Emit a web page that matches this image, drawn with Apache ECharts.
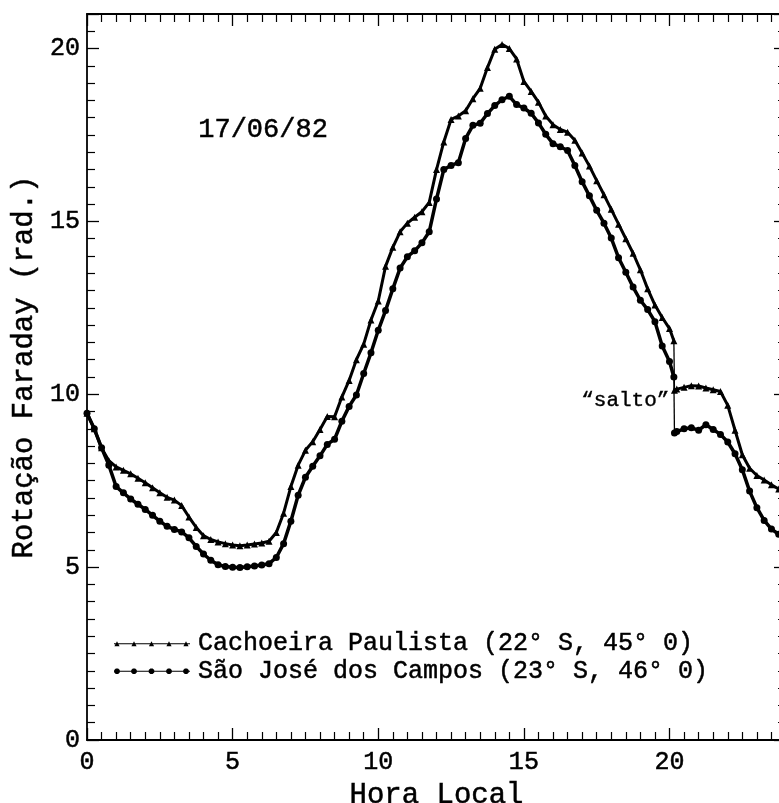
<!DOCTYPE html>
<html>
<head>
<meta charset="utf-8">
<script src="https://cdn.jsdelivr.net/npm/echarts@6/dist/echarts.min.js"></script>
<style>
html,body{margin:0;padding:0;background:#fff;}
#chart{width:779px;height:803px;}
</style>
</head>
<body>
<div id="chart"></div>
<script>
// Local time (hours); 20.15 / 20.17 bracket the "salto" (jump)
const hours = [
  0, 0.25, 0.5, 0.75, 1, 1.25, 1.5, 1.75, 2, 2.25, 2.5, 2.75, 3, 3.25, 3.5, 3.75,
  4, 4.25, 4.5, 4.75, 5, 5.25, 5.5, 5.75, 6, 6.25, 6.5, 6.75, 7, 7.25, 7.5, 7.75,
  8, 8.25, 8.5, 8.75, 9, 9.25, 9.5, 9.75, 10, 10.25, 10.5, 10.75, 11, 11.25, 11.5, 11.75,
  12, 12.25, 12.5, 12.75, 13, 13.25, 13.5, 13.75, 14, 14.25, 14.5, 14.75, 15, 15.25, 15.5, 15.75,
  16, 16.25, 16.5, 16.75, 17, 17.25, 17.5, 17.75, 18, 18.25, 18.5, 18.75, 19, 19.25, 19.5, 19.75,
  20, 20.15, 20.17, 20.25, 20.5, 20.75, 21, 21.25, 21.5, 21.75,
  22, 22.25, 22.5, 22.75, 23, 23.25, 23.5, 23.75, 24
];
const jumpBefore = 20.15;   // last reading before the "salto"
const jumpAfter = 20.17;    // first reading after the "salto"
// Cachoeira Paulista (22° S, 45° O)
const cachoeira = [
  9.45, 9.00, 8.45, 8.08, 7.90, 7.80, 7.70, 7.57, 7.44, 7.30, 7.15, 7.02, 6.94, 6.78, 6.45, 6.15,
  5.91, 5.80, 5.73, 5.68, 5.64, 5.62, 5.64, 5.67, 5.70, 5.75, 6.00, 6.56, 7.33, 7.95, 8.38, 8.63,
  8.98, 9.36, 9.35, 9.92, 10.40, 11.00, 11.45, 12.15, 12.70, 13.70, 14.25, 14.70, 14.95, 15.12, 15.28, 15.55,
  16.50, 17.30, 17.95, 18.05, 18.20, 18.55, 18.85, 19.45, 19.98, 20.12, 20.00, 19.70, 19.05, 18.76, 18.45, 18.05,
  17.80, 17.66, 17.58, 17.35, 16.98, 16.60, 16.18, 15.77, 15.35, 14.92, 14.50, 14.08, 13.60, 13.05, 12.58, 12.22,
  11.90, 11.55, 10.12, 10.15, 10.20, 10.25, 10.24, 10.18, 10.13, 10.08,
  9.68, 8.96, 8.25, 7.86, 7.65, 7.52, 7.38, 7.26, 7.15
];
// São José dos Campos (23° S, 46° O)
const saoJose = [
  9.45, 9.00, 8.45, 7.95, 7.33, 7.15, 6.97, 6.82, 6.67, 6.50, 6.33, 6.18, 6.09, 6.02, 5.85, 5.60,
  5.38, 5.20, 5.07, 5.02, 5.00, 4.99, 5.01, 5.03, 5.06, 5.10, 5.28, 5.68, 6.33, 7.08, 7.60, 7.92,
  8.22, 8.55, 8.70, 9.22, 9.65, 9.98, 10.60, 11.20, 11.85, 12.42, 13.05, 13.65, 13.98, 14.15, 14.38, 14.70,
  15.65, 16.50, 16.62, 16.70, 17.40, 17.78, 17.84, 18.12, 18.35, 18.52, 18.62, 18.38, 18.28, 18.13, 17.85, 17.52,
  17.25, 17.16, 17.05, 16.62, 16.15, 15.74, 15.32, 14.95, 14.52, 13.95, 13.53, 13.10, 12.72, 12.45, 12.10, 11.40,
  10.95, 10.50, 8.88, 8.92, 9.00, 9.03, 8.96, 9.12, 8.98, 8.84,
  8.62, 8.28, 7.82, 7.20, 6.72, 6.35, 6.10, 5.95, 5.85
];
const seriesNames = ['Cachoeira Paulista (22° S, 45° 0)', 'São José dos Campos (23° S, 46° 0)'];
const xTicks = [0, 5, 10, 15, 20];
const yTicks = [0, 5, 10, 15, 20];
const dateLabel = '17/06/82';
const jumpLabel = '\u201csalto\u201d';

const FONT = 'Liberation Mono';
const chart = echarts.init(document.getElementById('chart'), null, {renderer: 'canvas'});

const mx = [3, 20, 37.5, 55, 72];
const iconC = 'path://M0,2.6 L76,2.6 L76,3.4 L0,3.4 Z ' +
  mx.map(x => `M${x},0.6 L${x + 2.6},5.4 L${x - 2.6},5.4 Z`).join(' ') +
  ' M0,0 L0.01,0 L0,0.01 Z M76,6 L75.99,6 L76,5.99 Z';
const oct = (x, r) => {
  const pts = [];
  for (let k = 0; k < 8; k++) {
    const a = Math.PI / 8 + k * Math.PI / 4;
    pts.push(`${(x + r * Math.cos(a)).toFixed(2)},${(3 + r * Math.sin(a)).toFixed(2)}`);
  }
  return 'M' + pts.join(' L') + ' Z';
};
const iconS = 'path://M0,2.5 L76,2.5 L76,3.5 L0,3.5 Z ' + mx.map(x => oct(x, 3)).join(' ') +
  ' M0,0 L0.01,0 L0,0.01 Z M76,6 L75.99,6 L76,5.99 Z';

const txt = (size) => ({fontFamily: FONT, fontSize: size, color: '#000', textBorderColor: '#000', textBorderWidth: 0.5});

const axisCommon = {
  type: 'value',
  axisLine: {show: true, onZero: false, lineStyle: {color: '#000', width: 1.8}},
  axisTick: {show: true, inside: true, length: 12, lineStyle: {color: '#000', width: 1.3}},
  minorTick: {show: true, splitNumber: 10, length: 8, lineStyle: {color: '#000', width: 1.2}},
  splitLine: {show: false},
  minorSplitLine: {show: false}
};

const iBefore = hours.indexOf(jumpBefore);
const iAfter = hours.indexOf(jumpAfter);
const pairs = (vals, from, to) => hours.slice(from, to).map((h, k) => [h, vals[from + k]]);

const cStyle = {symbol: 'triangle', symbolSize: 7, showSymbol: true, lineStyle: {color: '#000', width: 3}, itemStyle: {color: '#000'}, z: 3};
const sStyle = {symbol: 'circle', symbolSize: 7, showSymbol: true, lineStyle: {color: '#000', width: 3.5}, itemStyle: {color: '#000'}, z: 2};

chart.setOption({
  animation: false,
  backgroundColor: '#fff',
  grid: {left: 87, right: -7, top: 14, bottom: 63, outerBoundsMode: 'none', containLabel: false},
  xAxis: [
    Object.assign({}, axisCommon, {
      position: 'bottom', min: 0, max: 24, interval: 5,
      name: 'Hora Local', nameLocation: 'middle', nameGap: 36,
      nameTextStyle: txt(29),
      axisLabel: Object.assign({
        show: true, margin: 10, showMaxLabel: false,
        formatter: v => (xTicks.indexOf(v) >= 0 ? String(v) : '')
      }, txt(25))
    }),
    Object.assign({}, axisCommon, {
      position: 'top', min: 0, max: 24, interval: 5,
      axisLabel: {show: false}
    })
  ],
  yAxis: [
    Object.assign({}, axisCommon, {
      position: 'left', min: 0, max: 21, interval: 5,
      name: 'Rotação Faraday (rad.)', nameLocation: 'middle', nameGap: 35, nameRotate: 90,
      nameTextStyle: Object.assign({padding: [0, 0, 0, 20]}, txt(29)),
      axisLabel: Object.assign({
        show: true, margin: 7, showMaxLabel: false,
        formatter: v => (yTicks.indexOf(v) >= 0 ? String(v) : '')
      }, txt(25))
    }),
    Object.assign({}, axisCommon, {
      position: 'right', min: 0, max: 21, interval: 5,
      axisLabel: {show: false}
    })
  ],
  legend: {
    show: true, orient: 'vertical', left: 109, top: 626, itemGap: 2,
    itemWidth: 76, itemHeight: 6,
    textStyle: Object.assign({padding: [0, 0, 0, 3]}, txt(25)),
    data: [
      {name: seriesNames[0], icon: iconC, itemStyle: {color: '#000', borderWidth: 0}},
      {name: seriesNames[1], icon: iconS, itemStyle: {color: '#000', borderWidth: 0}}
    ],
    selectedMode: false
  },
  graphic: [
    {type: 'text', left: 198, top: 116, style: {text: dateLabel, font: `27px "${FONT}"`, fill: '#000', stroke: '#000', lineWidth: 0.5}},
    {type: 'text', left: 581, top: 390, style: {text: jumpLabel, font: `21px "${FONT}"`, fill: '#000', stroke: '#000', lineWidth: 0.4}}
  ],
  series: [
    Object.assign({name: seriesNames[0], type: 'line', data: pairs(cachoeira, 0, iBefore + 1)}, cStyle),
    Object.assign({name: seriesNames[0], type: 'line', data: pairs(cachoeira, iAfter, hours.length)}, cStyle),
    Object.assign({name: seriesNames[1], type: 'line', data: pairs(saoJose, 0, iBefore + 1)}, sStyle),
    Object.assign({name: seriesNames[1], type: 'line', data: pairs(saoJose, iAfter, hours.length)}, sStyle),
    // thin connectors across the "salto"
    {type: 'line', data: [[jumpBefore, cachoeira[iBefore]], [jumpAfter, cachoeira[iAfter]]], showSymbol: false,
     lineStyle: {color: '#000', width: 1.3}, z: 1},
    {type: 'line', data: [[jumpBefore, saoJose[iBefore]], [jumpAfter, saoJose[iAfter]]], showSymbol: false,
     lineStyle: {color: '#000', width: 1.3}, z: 1}
  ]
});
</script>
</body>
</html>
